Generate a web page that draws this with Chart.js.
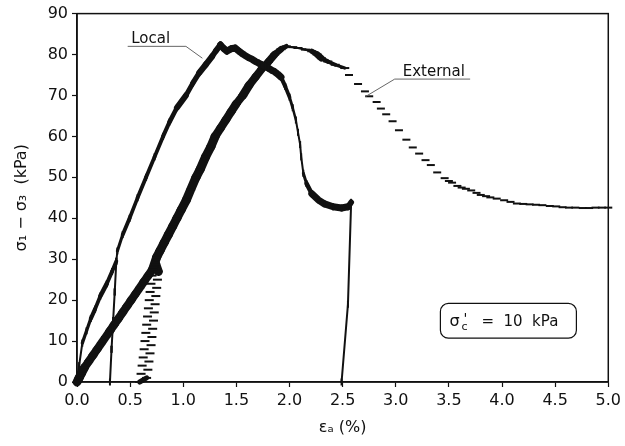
<!DOCTYPE html>
<html>
<head>
<meta charset="utf-8">
<script src="https://cdn.jsdelivr.net/npm/chart.js@4.4.1/dist/chart.umd.min.js"></script>
<style>
  html, body { margin: 0; padding: 0; background: #fff; }
  canvas { display: block; }
</style>
</head>
<body>
<canvas id="stressChart" width="625" height="446"></canvas>
<script>
// tick values
const strainTicks = [0, 0.5, 1.0, 1.5, 2.0, 2.5, 3.0, 3.5, 4.0, 4.5, 5.0];
const stressTicks = [0, 10, 20, 30, 40, 50, 60, 70, 80, 90];

// local strain measurement (%), deviator stress (kPa)
const localStrain = [0.00, 0.02, 0.05, 0.09, 0.13, 0.17, 0.22, 0.28, 0.33, 0.37,
  0.355, 0.34, 0.325, 0.31, 0.325, 0.34, 0.355, 0.37,
  0.38, 0.43, 0.495, 0.57, 0.65, 0.73, 0.81, 0.87, 0.94, 1.025, 1.09, 1.15, 1.21, 1.27, 1.31, 1.35,
  1.38, 1.41, 1.45, 1.49, 1.52, 1.55, 1.58, 1.61, 1.65, 1.68, 1.71, 1.74, 1.77, 1.80, 1.83, 1.86, 1.89,
  1.92, 1.96, 2.00, 2.03, 2.06, 2.08, 2.10, 2.11, 2.13, 2.16, 2.21, 2.27, 2.33, 2.41, 2.49, 2.55, 2.58,
  2.55, 2.49];
const localStress = [0, 4, 9.5, 12.5, 15.5, 17.8, 21, 24, 27, 29.5,
  22, 15, 8, 0, 8, 15, 22, 29.5,
  32, 36, 40, 45, 50, 55, 60, 63.5, 67, 70, 73, 75.5, 77.5, 79.5, 81, 82.4,
  81.5, 80.8, 81.4, 81.6, 80.9, 80.3, 79.8, 79.3, 78.8, 78.3, 77.9, 77.5, 77.1, 76.7, 76.2, 75.8, 75.2,
  74.5, 72.2, 69.6, 67, 64, 61, 58, 55, 51, 48.5, 46, 44.5, 43.5, 42.8, 42.5, 42.8, 43.9,
  19, 0];

// external measurement: loading, unload-reload loop and rise to peak
const extRiseStrain = [0.00, 0.02, 0.04, 0.07, 0.11, 0.15, 0.19, 0.23, 0.27, 0.31, 0.35, 0.39, 0.43,
  0.47, 0.51, 0.55, 0.59, 0.63, 0.67, 0.71, 0.74,
  0.765, 0.757, 0.75, 0.742, 0.735, 0.727, 0.72, 0.712, 0.705, 0.697, 0.687, 0.677, 0.667, 0.655,
  0.59, 0.603, 0.613, 0.623, 0.632, 0.64, 0.648, 0.656, 0.664, 0.672, 0.68, 0.688, 0.696, 0.706, 0.718,
  0.75, 0.78, 0.82, 0.86, 0.90, 0.94, 0.98, 1.03, 1.07, 1.12, 1.16, 1.21, 1.26, 1.30, 1.35, 1.40,
  1.45, 1.50, 1.56, 1.62, 1.68, 1.74, 1.80, 1.86, 1.92, 1.97, 2.03, 2.08, 2.15, 2.21, 2.26, 2.30,
  2.36, 2.43, 2.52];
const extRiseStress = [0, 1, 2, 3.5, 5, 6.5, 8, 9.5, 11, 12.5, 14, 15.5, 17,
  18.5, 20, 21.5, 23, 24.5, 26, 27.5, 28.8,
  27, 25, 23, 21, 19, 17, 15, 13, 11, 9, 7, 5, 3, 1,
  0, 2, 4, 6, 8, 10, 12, 14, 16, 18, 20, 22, 24, 26, 28,
  30.5, 32, 34, 36, 38, 40, 42, 44.5, 47, 50, 52, 55, 57.5, 60, 62, 64,
  66, 68, 70, 72.5, 74.5, 76.5, 78.2, 80, 81.3, 82, 81.8, 81.6, 81.2, 80.8, 80, 79.1,
  78.3, 77.5, 76.7];

// external measurement: post-peak softening
const extFallStrain = [2.56, 2.645, 2.71, 2.75, 2.82, 2.86, 2.91, 2.97, 3.03, 3.10, 3.16, 3.22, 3.28,
  3.33, 3.39, 3.46, 3.50, 3.53, 3.58, 3.62, 3.66, 3.71, 3.76, 3.80, 3.85, 3.89, 3.95, 4.02, 4.08,
  4.14, 4.20, 4.26, 4.32, 4.38, 4.45, 4.51, 4.57, 4.63, 4.69, 4.76, 4.82, 4.88, 4.94, 5.00];
const extFallStress = [75.0, 72.8, 71.0, 69.8, 68.4, 66.8, 65.4, 63.7, 61.5, 59.2, 57.3, 55.8, 54.2,
  53.0, 51.2, 49.8, 49.1, 48.7, 47.9, 47.5, 47.2, 46.8, 46.2, 45.7, 45.4, 45.1, 44.8, 44.4, 44.0,
  43.6, 43.5, 43.4, 43.3, 43.2, 43.0, 42.9, 42.7, 42.6, 42.6, 42.5, 42.5, 42.6, 42.6, 42.6];

const INK = '#111';
const FONT = 'DejaVu Sans';

function pairs(xs, ys) {
  return xs.map((x, i) => ({ x: x, y: ys[i] }));
}

// the original traces are dense runs of dash markers, so the stroke is as
// wide as the dash seen across the direction of travel
function dashWidth(len, cap, vertical) {
  return function (c) {
    const dx = c.p1.x - c.p0.x, dy = c.p1.y - c.p0.y;
    const d = Math.hypot(dx, dy) || 1;
    const s = vertical ? Math.abs(dx) / d : Math.abs(dy) / d;
    return Math.min(cap, Math.max(2, len * s));
  };
}

// near-vertical runs of the external trace are sparse dashes only
function sparseSteep(c) {
  const dx = Math.abs(c.p1.x - c.p0.x), dy = Math.abs(c.p1.y - c.p0.y);
  return dy > 5 * dx ? 'rgba(0,0,0,0)' : INK;
}

// frame, callout labels and confining pressure box
const overlay = {
  id: 'overlay',
  afterDatasetsDraw(chart) {
    const { ctx, chartArea: a, scales: { x, y } } = chart;
    ctx.save();
    ctx.strokeStyle = INK;
    ctx.lineWidth = 1.5;
    ctx.strokeRect(a.left, a.top, a.right - a.left, a.bottom - a.top);

    function callout(text, tx, ty, u0, u1, uy, px, py, fromLeft) {
      ctx.fillStyle = INK;
      ctx.font = '15px ' + FONT;
      ctx.textBaseline = 'alphabetic';
      ctx.textAlign = 'left';
      ctx.fillText(text, x.getPixelForValue(tx), y.getPixelForValue(ty));
      ctx.strokeStyle = '#666';
      ctx.lineWidth = 1;
      ctx.beginPath();
      const sx = x.getPixelForValue(fromLeft ? u0 : u1);
      const ex = x.getPixelForValue(fromLeft ? u1 : u0);
      ctx.moveTo(ex, y.getPixelForValue(uy));
      ctx.lineTo(sx, y.getPixelForValue(uy));
      ctx.lineTo(x.getPixelForValue(px), y.getPixelForValue(py));
      ctx.stroke();
    }
    callout('Local', 0.51, 82.8, 0.477, 1.025, 82.0, 1.18, 79.1, false);
    callout('External', 3.065, 74.7, 2.99, 3.70, 74.0, 2.72, 69.8, true);

    // rounded box
    const bx0 = x.getPixelForValue(3.42), bx1 = x.getPixelForValue(4.70);
    const by0 = y.getPixelForValue(19.2), by1 = y.getPixelForValue(10.7);
    ctx.strokeStyle = INK;
    ctx.lineWidth = 1.2;
    ctx.beginPath();
    ctx.roundRect(bx0, by0, bx1 - bx0, by1 - by0, 8);
    ctx.stroke();
    const base = by0 + 23;
    ctx.fillStyle = INK;
    ctx.font = '16px ' + FONT;
    ctx.fillText('σ', bx0 + 9, base);
    ctx.font = '11px ' + FONT;
    ctx.fillText('c', bx0 + 21, base + 4);
    ctx.font = '14px ' + FONT;
    ctx.fillText("'", bx0 + 23, base - 3);
    ctx.font = '15px ' + FONT;
    ctx.fillText('=  10  kPa', bx0 + 41, base);
    ctx.restore();
  }
};

const common = {
  showLine: true,
  borderColor: INK,
  borderCapStyle: 'round',
  borderJoinStyle: 'round',
  pointStyle: 'line',
  pointBorderColor: INK,
  pointBackgroundColor: INK,
  pointBorderWidth: 2,
  tension: 0,
  clip: false
};

new Chart(document.getElementById('stressChart').getContext('2d'), {
  type: 'scatter',
  data: {
    datasets: [
      Object.assign({}, common, {
        label: 'Local',
        data: pairs(localStrain, localStress),
        borderWidth: 2.5,
        segment: { borderWidth: dashWidth(10, 7, true) },
        pointRotation: 90,
        pointRadius: 3.5,
        pointHoverRadius: 3.5
      }),
      Object.assign({}, common, {
        label: 'External',
        data: pairs(extRiseStrain, extRiseStress),
        borderWidth: 2.5,
        segment: { borderWidth: dashWidth(10, 9, false), borderColor: sparseSteep },
        pointRotation: 0,
        pointRadius: 4.5,
        pointHoverRadius: 4.5
      }),
      Object.assign({}, common, {
        label: 'External softening',
        data: pairs(extFallStrain, extFallStress),
        showLine: false,
        pointRotation: 0,
        pointRadius: 4,
        pointHoverRadius: 4
      })
    ]
  },
  options: {
    responsive: false,
    animation: false,
    devicePixelRatio: 1,
    layout: { padding: { top: 12, right: 13, left: 0, bottom: 0 } },
    plugins: { legend: { display: false }, tooltip: { enabled: false } },
    scales: {
      x: {
        type: 'linear',
        min: 0,
        max: 5,
        afterFit: s => { s.height = 64; },
        afterBuildTicks: s => { s.ticks = strainTicks.map(v => ({ value: v })); },
        ticks: {
          callback: v => v.toFixed(1),
          color: INK,
          font: { family: FONT, size: 16 },
          padding: 4,
          maxRotation: 0,
          autoSkip: false
        },
        grid: { drawOnChartArea: false, tickLength: 5, color: INK, tickWidth: 1.2 },
        border: { color: INK, width: 1.5 },
        title: {
          display: true,
          text: 'εₐ (%)',
          color: INK,
          font: { family: FONT, size: 16 },
          padding: { top: 0, bottom: 9 }
        }
      },
      y: {
        type: 'linear',
        min: 0,
        max: 90,
        afterFit: s => { s.width = 77; },
        afterBuildTicks: s => { s.ticks = stressTicks.map(v => ({ value: v })); },
        ticks: {
          color: INK,
          font: { family: FONT, size: 16 },
          padding: 4,
          autoSkip: false
        },
        grid: { drawOnChartArea: false, tickLength: 5, color: INK, tickWidth: 1.2 },
        border: { color: INK, width: 1.5 },
        title: {
          display: true,
          text: 'σ₁ − σ₃  (kPa)',
          color: INK,
          font: { family: FONT, size: 16 },
          padding: { top: 12, bottom: 0 }
        }
      }
    }
  },
  plugins: [overlay]
});
</script>
</body>
</html>
